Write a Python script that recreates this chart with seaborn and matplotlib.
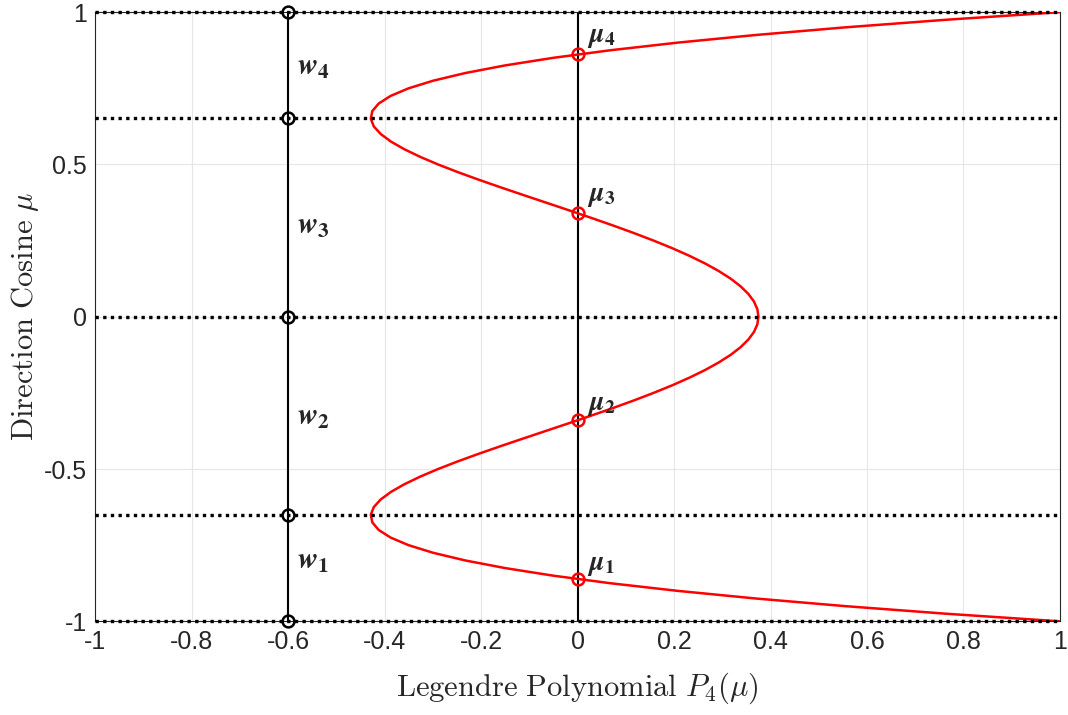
import numpy as np
import pandas as pd
import seaborn as sns
import matplotlib.pyplot as plt

# Direction cosine grid and P4(mu)
mu = [-1.0, -0.975, -0.95, -0.925, -0.9, -0.875, -0.85, -0.825, -0.8, -0.775,
      -0.75, -0.725, -0.7, -0.675, -0.65, -0.625, -0.6, -0.575, -0.55, -0.525,
      -0.5, -0.475, -0.45, -0.425, -0.4, -0.375, -0.35, -0.325, -0.3, -0.275,
      -0.25, -0.225, -0.2, -0.175, -0.15, -0.125, -0.1, -0.075, -0.05, -0.025,
      0.0, 0.025, 0.05, 0.075, 0.1, 0.125, 0.15, 0.175, 0.2, 0.225,
      0.25, 0.275, 0.3, 0.325, 0.35, 0.375, 0.4, 0.425, 0.45, 0.475,
      0.5, 0.525, 0.55, 0.575, 0.6, 0.625, 0.65, 0.675, 0.7, 0.725,
      0.75, 0.775, 0.8, 0.825, 0.85, 0.875, 0.9, 0.925, 0.95, 0.975, 1.0]
p4 = [1.0, 0.7638, 0.5541, 0.3693, 0.2079, 0.0685, -0.0506, -0.1506, -0.233, -0.2991,
      -0.3501, -0.3874, -0.4121, -0.4254, -0.4284, -0.4223, -0.408, -0.3866, -0.359, -0.3262,
      -0.2891, -0.2484, -0.205, -0.1596, -0.113, -0.0658, -0.0187, 0.0277, 0.0729, 0.1164,
      0.1577, 0.1964, 0.232, 0.2643, 0.2928, 0.3175, 0.3379, 0.354, 0.3657, 0.3727,
      0.375, 0.3727, 0.3657, 0.354, 0.3379, 0.3175, 0.2928, 0.2643, 0.232, 0.1964,
      0.1577, 0.1164, 0.0729, 0.0277, -0.0187, -0.0658, -0.113, -0.1596, -0.205, -0.2484,
      -0.2891, -0.3262, -0.359, -0.3866, -0.408, -0.4223, -0.4284, -0.4254, -0.4121, -0.3874,
      -0.3501, -0.2991, -0.233, -0.1506, -0.0506, 0.0685, 0.2079, 0.3693, 0.5541, 0.7638, 1.0]

# Gauss points (roots of P4) and cumulative weight boundaries
roots = [-0.8611, -0.3400, 0.3400, 0.8611]
bounds = [-1.0, -0.6521, 0.0, 0.6521, 1.0]
w_x = -0.6
w_labels = [r'$\mathbfit{w}_{\mathbf{1}}$', r'$\mathbfit{w}_{\mathbf{2}}$',
            r'$\mathbfit{w}_{\mathbf{3}}$', r'$\mathbfit{w}_{\mathbf{4}}$']
w_label_y = [-0.80, -0.33, 0.30, 0.82]
mu_labels = [r'$\mathbfit{\mu}_{\mathbf{1}}$', r'$\mathbfit{\mu}_{\mathbf{2}}$',
             r'$\mathbfit{\mu}_{\mathbf{3}}$', r'$\mathbfit{\mu}_{\mathbf{4}}$']
mu_label_y = [-0.815, -0.29, 0.395, 0.92]

sns.set_style("whitegrid", {"grid.color": "#e6e6e6", "axes.edgecolor": "#262626"})
plt.rcParams['font.family'] = ['Liberation Sans', 'DejaVu Sans']
plt.rcParams['mathtext.fontset'] = 'cm'

fig = plt.figure(figsize=(10.68, 7.15), dpi=100)
ax = fig.add_axes([0.089, 0.131, 0.9035, 0.852])

curve = pd.DataFrame({'mu': mu, 'p4': p4})
sns.lineplot(data=curve, x='p4', y='mu', orient='y', sort=False, estimator=None,
             errorbar=None, color='red', lw=1.8, ax=ax, zorder=3)

# dotted weight boundaries
for b in bounds:
    ax.axhline(b, color='black', ls=(0, (1, 1.3)), lw=2.4, zorder=3, clip_on=False)

# weight bar at x = -0.6
wdf = pd.DataFrame({'x': [w_x] * len(bounds), 'y': bounds})
sns.lineplot(data=wdf, x='x', y='y', sort=False, orient='y', estimator=None,
             errorbar=None, color='black', lw=1.5, clip_on=False,
             marker='o', markersize=8.5, markerfacecolor='none', markeredgecolor='black',
             markeredgewidth=1.8, ax=ax, zorder=4)

# vertical line at P4 = 0 with the roots
ax.plot([0, 0], [-1, 1], color='black', lw=1.5, zorder=2)
ax.plot([0] * len(roots), roots, ls='none', marker='o', markersize=8.5,
        markerfacecolor='none', markeredgecolor='red', markeredgewidth=1.8, zorder=4)

for lab, y in zip(w_labels, w_label_y):
    ax.text(-0.582, y, lab, fontsize=22, va='center', ha='left', math_fontfamily='stix')
for lab, y in zip(mu_labels, mu_label_y):
    ax.text(0.02, y, lab, fontsize=20, va='center', ha='left', math_fontfamily='stix')

ax.set_xlim(-1, 1)
ax.set_ylim(-1, 1)
ax.set_xticks(np.arange(-1, 1.01, 0.2))
ax.set_xticklabels(['-1', '-0.8', '-0.6', '-0.4', '-0.2', '0', '0.2', '0.4', '0.6', '0.8', '1'])
ax.set_yticks([-1, -0.5, 0, 0.5, 1])
ax.set_yticklabels(['-1', '-0.5', '0', '0.5', '1'])
ax.tick_params(labelsize=18, length=0, pad=6)
ax.set_xlabel(r'$\mathrm{Legendre\ Polynomial}\ P_4(\mu)$', fontsize=22, labelpad=12)
ax.set_ylabel(r'$\mathrm{Direction\ Cosine}\ \mu$', fontsize=22, labelpad=2)
for s in ax.spines.values():
    s.set_linewidth(0.8)

fig.savefig('out.png', dpi=100)
